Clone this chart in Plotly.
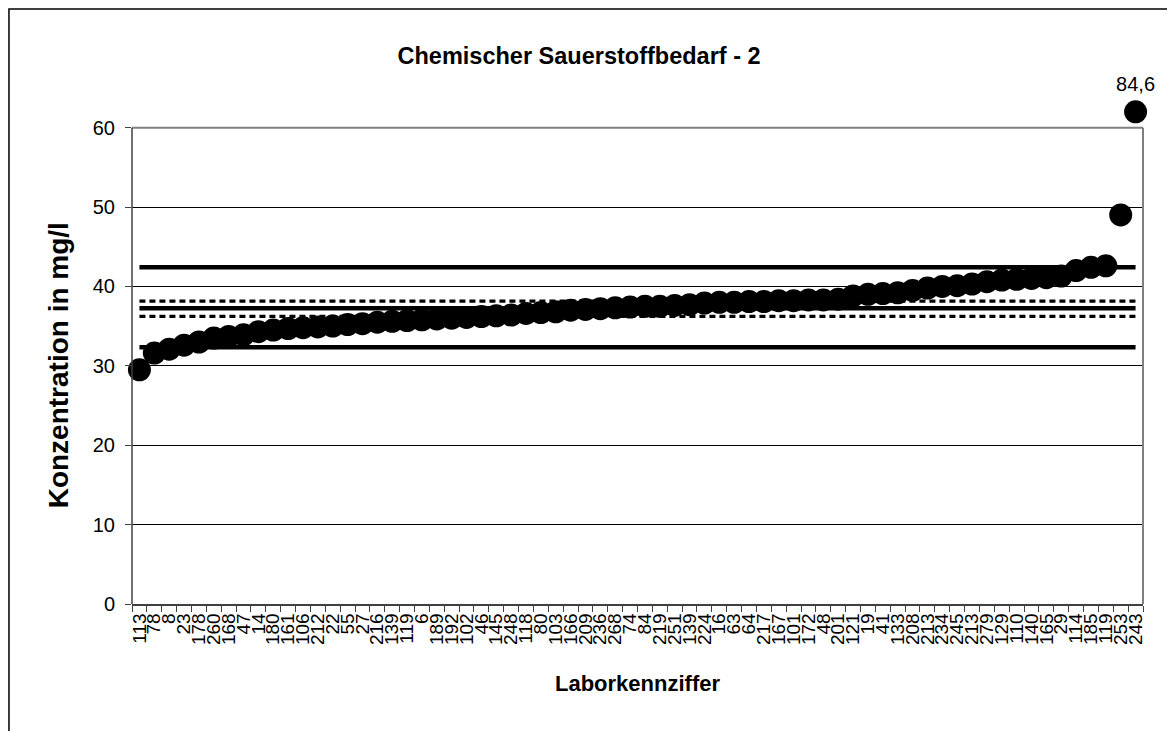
import plotly.graph_objects as go

# Laborkennziffern (x-axis categories, sorted by result)
labs = ["113", "78", "8", "23", "178", "260", "168", "47", "14", "180",
        "161", "106", "212", "22", "55", "27", "216", "139", "119", "6",
        "189", "192", "102", "46", "145", "248", "118", "80", "103", "166",
        "209", "236", "268", "74", "84", "219", "251", "139", "224", "16",
        "63", "64", "217", "167", "101", "172", "48", "201", "121", "19",
        "41", "133", "208", "213", "234", "245", "213", "279", "129", "110",
        "140", "165", "29", "114", "185", "119", "253", "243"]

# results in mg/l
values = [29.5, 31.6, 32.1, 32.6, 33.0, 33.5, 33.7, 33.9, 34.3, 34.5,
          34.7, 34.8, 34.9, 35.0, 35.2, 35.3, 35.5, 35.6, 35.7, 35.8,
          35.9, 36.0, 36.1, 36.2, 36.3, 36.4, 36.6, 36.7, 36.8, 37.0,
          37.1, 37.2, 37.3, 37.4, 37.5, 37.5, 37.6, 37.7, 37.9, 38.0,
          38.0, 38.1, 38.1, 38.2, 38.2, 38.3, 38.3, 38.4, 38.8, 39.0,
          39.1, 39.2, 39.5, 39.8, 40.0, 40.1, 40.3, 40.6, 40.8, 40.9,
          41.0, 41.1, 41.3, 42.0, 42.4, 42.6, 49.0, 84.6]

# reference lines
mean_val = 37.24
tol_upper = 42.4
tol_lower = 32.35
ci_upper = 38.16
ci_lower = 36.24

y_ticks = [0, 10, 20, 30, 40, 50, 60]
AXIS_MAX = 60      # top of the drawn value axis
AXIS_CAP = 62.0    # values above the axis are drawn here and labelled

FONT = "Arial, Liberation Sans, sans-serif"

x = list(range(1, len(labs) + 1))
y_plot = [min(v, AXIS_CAP) for v in values]
texts = [f"{v:.1f}".replace(".", ",") if v > AXIS_MAX else "" for v in values]

fig = go.Figure()

for level in [tol_upper, mean_val, tol_lower]:
    fig.add_trace(go.Scatter(
        x=[x[0], x[-1]], y=[level, level], mode="lines",
        line=dict(color="black", width=4.5), hoverinfo="skip"
    ))
for level in [ci_upper, ci_lower]:
    fig.add_trace(go.Scatter(
        x=[x[0], x[-1]], y=[level, level], mode="lines",
        line=dict(color="black", width=3.3, dash="6px,4px"), hoverinfo="skip"
    ))

fig.add_trace(go.Scatter(
    x=x, y=y_plot, mode="markers+text",
    marker=dict(color="black", size=23, line=dict(width=0)),
    text=texts, textposition="top center",
    textfont=dict(family=FONT, size=20, color="black"),
    cliponaxis=False,
    customdata=values,
    hovertemplate="%{customdata}<extra></extra>"
))

# outer chart frame (just inside the figure edge)
fig.add_shape(type="rect", xref="paper", yref="paper",
              x0=-0.1217, x1=1.0267, y0=-0.3, y1=1.1355,
              line=dict(color="black", width=1.5), layer="below")
# plot area border (top and right grey, left axis dark)
fig.add_shape(type="line", xref="paper", yref="y", x0=0, x1=1,
              y0=AXIS_MAX, y1=AXIS_MAX, line=dict(color="#808080", width=2))
fig.add_shape(type="line", xref="paper", yref="y", x0=1, x1=1,
              y0=0, y1=AXIS_MAX, line=dict(color="#808080", width=2))
fig.add_shape(type="line", xref="paper", yref="y", x0=0, x1=0,
              y0=0, y1=AXIS_MAX, line=dict(color="#404040", width=1.5))

# y-axis title centred on the 0-60 value range
fig.add_annotation(
    text="<b>Konzentration in mg/l</b>", textangle=-90,
    xref="paper", yref="y", x=-0.0727, y=AXIS_MAX / 2,
    xanchor="center", yanchor="middle", showarrow=False,
    font=dict(size=28, family=FONT, color="black"),
)

# page body adds 8px offset, margins compensate
fig.update_layout(
    width=1175, height=731,
    margin=dict(l=124, r=40, t=72, b=135),
    paper_bgcolor="white", plot_bgcolor="white",
    showlegend=False,
    font=dict(family=FONT, color="black"),
    title=dict(text="<b>Chemischer Sauerstoffbedarf - 2</b>",
               x=0.486, xanchor="center", y=0.935, yanchor="middle",
               font=dict(size=23.5)),
)

fig.update_xaxes(
    range=[0.5, len(labs) + 0.5], automargin=False,
    tickmode="array", tickvals=x, ticktext=labs, tickangle=-90,
    ticks="", tickfont=dict(size=19),
    minor=dict(tickmode="array", tickvals=[i - 0.5 for i in x] + [len(labs) + 0.5],
               ticks="outside", ticklen=6, tickcolor="#404040", showgrid=False),
    showgrid=False, zeroline=False,
    showline=True, linecolor="#404040", linewidth=1.5,
    title=dict(text="<b>Laborkennziffer</b>", font=dict(size=22), standoff=32),
)

fig.update_yaxes(
    range=[0, 66], automargin=False,
    tickmode="array", tickvals=y_ticks,
    ticks="outside", ticklen=6, tickcolor="#404040", tickfont=dict(size=20),
    ticklabelstandoff=6,
    showgrid=True, gridcolor="black", gridwidth=1,
    zeroline=False, showline=False,
)

fig.write_html("out.html")
